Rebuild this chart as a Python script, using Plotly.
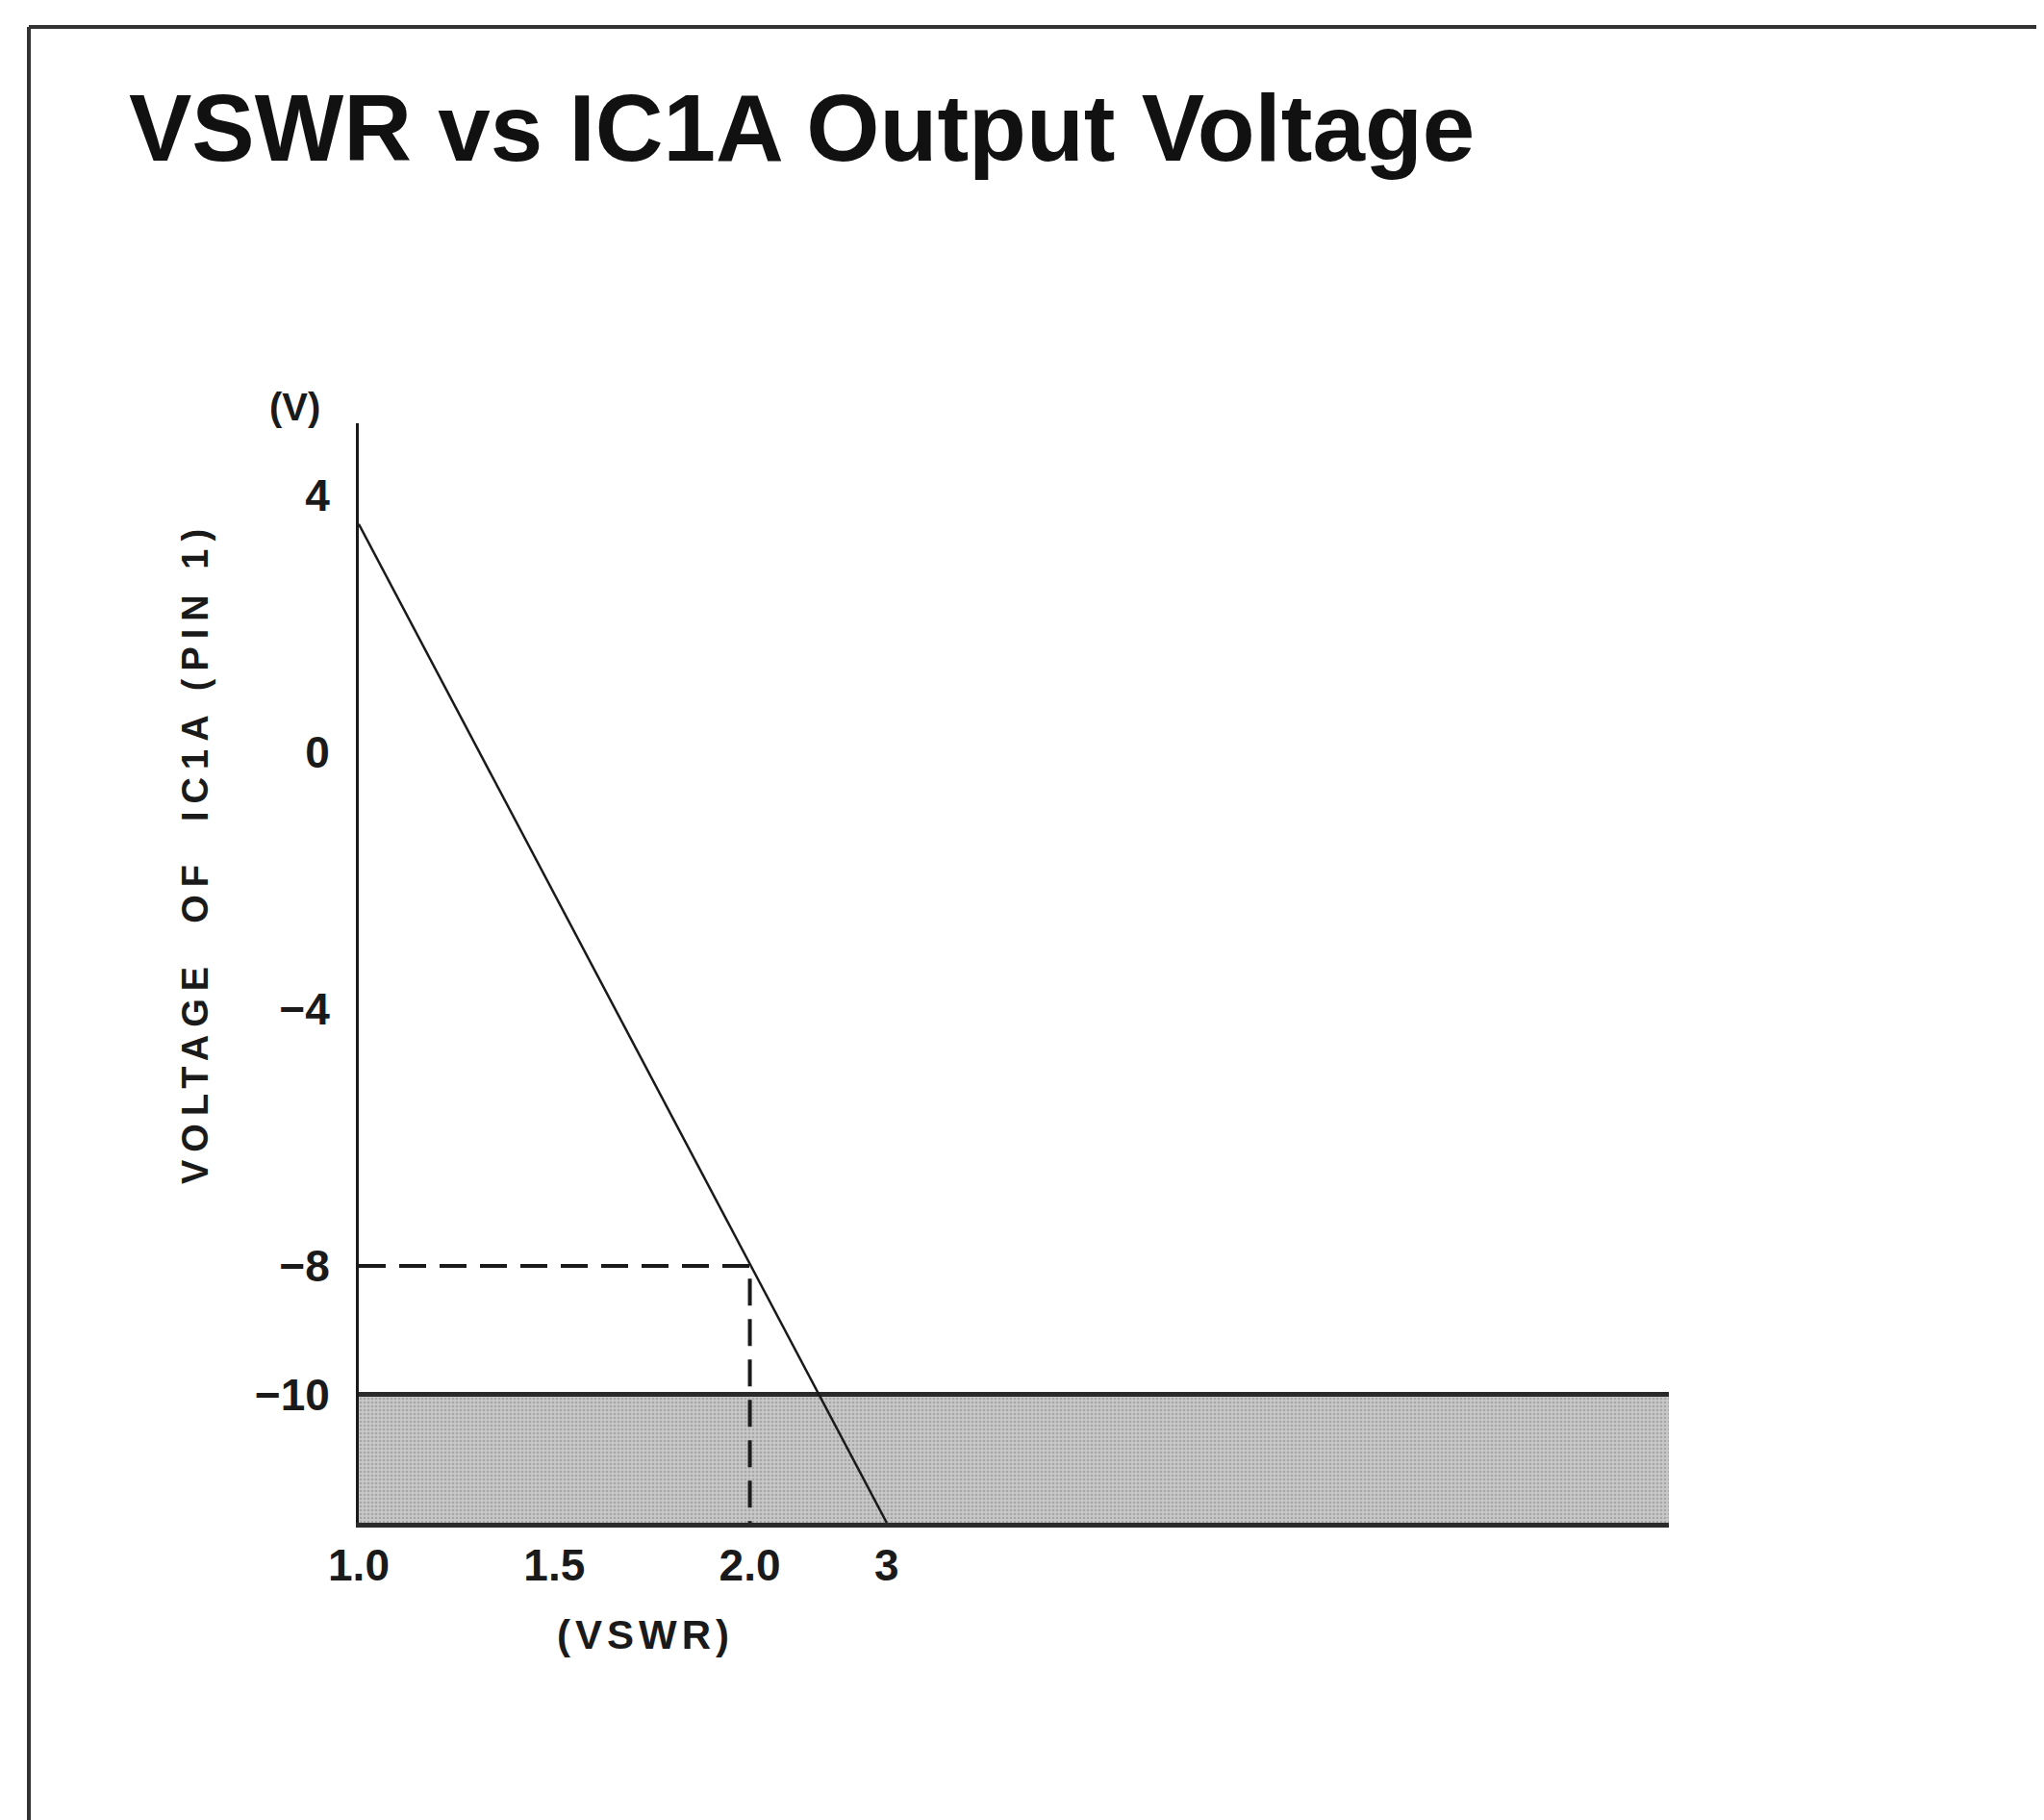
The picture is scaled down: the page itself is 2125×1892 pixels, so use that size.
import plotly.graph_objects as go

# ---- data ----
vswr_tick_labels = ["1.0", "1.5", "2.0", "3"]
vswr_tick_pos = [1.0, 1.5, 2.0, 2.35]          # drawn (non-linear) positions of the VSWR ticks
volt_ticks = [4, 0, -4, -8, -10]
volt_tick_labels = ["4", "0", "\u22124", "\u22128", "\u221210"]

curve_x = [1.0, 2.35]                           # VSWR 1.0 -> VSWR 3
curve_y = [3.55, -12.0]                         # output voltage (V)

ref_x = [1.0, 2.0, 2.0]                         # dashed reference: VSWR 2.0 at -8 V
ref_y = [-8.0, -8.0, -12.0]

band_x = [1.0, 4.35, 4.35, 1.0]                 # shaded region below -10 V
band_y = [-10.0, -10.0, -12.0, -12.0]
band_top_x = [1.0, 4.35]
band_top_y = [-10.0, -10.0]

X_RANGE = [1.0, 4.35]
Y_RANGE = [-12.0, 5.12]

FONT = "Liberation Sans, Arial, sans-serif"
INK = "#1a1a1a"

# page offset (browser body margin) and plot-area geometry in page pixels
OFF = 8
PL, PR, PT, PB = 373, 1735, 440, 1583
W, H = 2125 - OFF, 1892 - OFF


def px(xp):
    return (xp - PL) / (PR - PL)


def py(yp):
    return (PB - yp) / (PB - PT)


fig = go.Figure()

fig.add_trace(go.Scatter(
    x=band_x, y=band_y, mode="none", fill="toself",
    fillcolor="#c2c2c2",
    fillpattern=dict(shape=".", bgcolor="#c8c8c8", fgcolor="#868686", size=4, solidity=0.35),
    hoverinfo="skip", showlegend=False))

fig.add_trace(go.Scatter(
    x=band_top_x, y=band_top_y, mode="lines",
    line=dict(color="#2a2a2a", width=5), hoverinfo="skip", showlegend=False))

fig.add_trace(go.Scatter(
    x=ref_x, y=ref_y, mode="lines",
    line=dict(color=INK, width=4, dash="28px,14px"), hoverinfo="skip", showlegend=False))

fig.add_trace(go.Scatter(
    x=curve_x, y=curve_y, mode="lines",
    line=dict(color=INK, width=2.5), hoverinfo="skip", showlegend=False))

fig.update_layout(
    width=W, height=H,
    margin=dict(l=PL - OFF, r=W - (PR - OFF), t=PT - OFF, b=H - (PB - OFF)),
    paper_bgcolor="white", plot_bgcolor="white",
    font=dict(family=FONT, color=INK),
    title=dict(text="<b>VSWR vs IC1A Output Voltage</b>",
               font=dict(family=FONT, size=98, color="#111111"),
               xref="container", yref="container", x=(134 - OFF) / W, y=1 - (133 - OFF) / H,
               xanchor="left", yanchor="middle"),
    xaxis=dict(range=X_RANGE, tickmode="array", tickvals=vswr_tick_pos,
               ticktext=[f"<b>{t}</b>" for t in vswr_tick_labels],
               showgrid=False, zeroline=False, showline=True, linecolor="#2a2a2a", linewidth=5,
               ticks="", tickfont=dict(family=FONT, size=46, color=INK), ticklabelstandoff=0),
    yaxis=dict(range=Y_RANGE, tickmode="array", tickvals=volt_ticks,
               ticktext=[f"<b>{t}</b>" for t in volt_tick_labels],
               showgrid=False, zeroline=False, showline=True, linecolor=INK, linewidth=3,
               ticks="", tickfont=dict(family=FONT, size=46, color=INK), ticklabelstandoff=18),
    showlegend=False,
)

# axis unit labels and y title
fig.add_annotation(text="<b>(V)</b>", xref="paper", yref="paper", x=px(306), y=py(423),
                   showarrow=False, font=dict(family=FONT, size=40, color=INK),
                   xanchor="center", yanchor="middle")
fig.add_annotation(text='<b><span style="letter-spacing:5px">(VSWR)</span></b>', xref="paper", yref="paper",
                   x=px(671), y=py(1699),
                   showarrow=False, font=dict(family=FONT, size=42, color=INK),
                   xanchor="center", yanchor="middle")
fig.add_annotation(text='<b><span style="letter-spacing:8px">VOLTAGE  OF  IC1A (PIN 1)</span></b>',
                   xref="paper", yref="paper", textangle=-90,
                   x=px(203), y=py(887),
                   showarrow=False, font=dict(family=FONT, size=38, color=INK),
                   xanchor="center", yanchor="middle")

# page frame (top and left rules)
fx0 = px(30)
fy0 = py(28)
fig.add_shape(type="line", xref="paper", yref="paper", x0=fx0, y0=fy0, x1=px(2125), y1=fy0,
              line=dict(color="#333333", width=4))
fig.add_shape(type="line", xref="paper", yref="paper", x0=fx0, y0=fy0, x1=fx0, y1=py(1892),
              line=dict(color="#333333", width=4))

fig.write_html("out.html")
